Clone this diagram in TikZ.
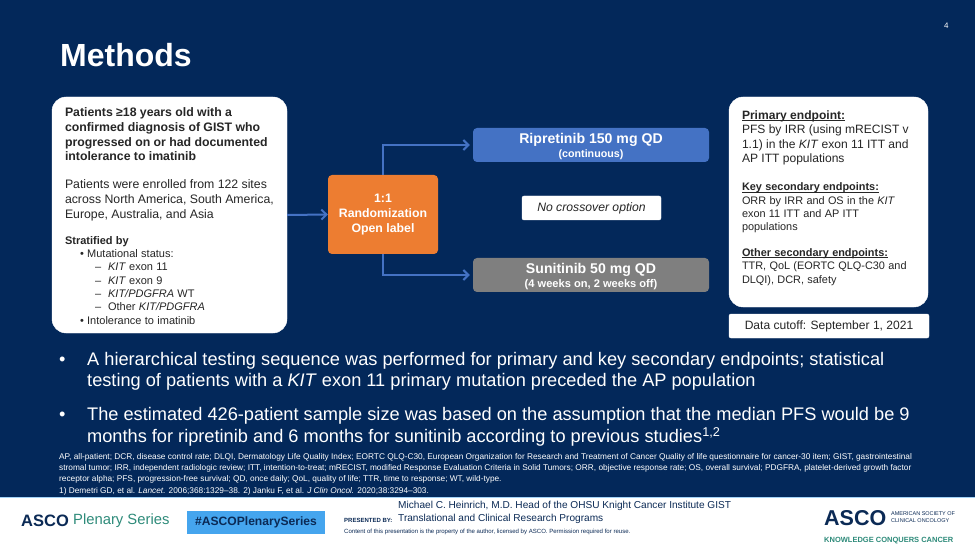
\documentclass[tikz,border=0pt]{standalone}
\usepackage{fontspec}
\setmainfont{Liberation Sans}
\usetikzlibrary{arrows.meta}
\definecolor{navy}{HTML}{03285A}
\definecolor{linkblue}{HTML}{4472C4}
\definecolor{orangebox}{HTML}{ED7D31}
\definecolor{greybox}{HTML}{7F7F7F}
\definecolor{inktext}{HTML}{262626}
\definecolor{hashblue}{HTML}{45A5EE}
\definecolor{ascogreen}{HTML}{2E8B7A}
\definecolor{asconavy}{HTML}{0B2A55}
\newcommand{\fs}[2]{\fontsize{#1}{#2}\selectfont}
\newcommand{\ulin}[1]{\setbox0\hbox{#1}\rlap{\rule[-1.6pt]{\wd0}{0.7pt}}\box0}
\tikzset{
  x=1pt,y=-1pt,
  whitebox/.style={draw=white,fill=white,rounded corners=14pt,inner sep=0pt,text=inktext,align=left},
  smallbox/.style={draw=white,fill=white,rounded corners=2pt,inner sep=0pt,text=inktext,align=center},
  armbox/.style={rounded corners=4pt,inner sep=0pt,text=white,align=center,minimum width=236pt,minimum height=34pt},
  link/.style={draw=linkblue,line width=2pt,-{Straight Barb[length=5pt,width=10pt,line width=2pt]}},
  txt/.style={inner sep=0pt,anchor=west,text=white,align=left},
  foot/.style={inner sep=0pt,anchor=west,text=#1,align=left},
}
\begin{document}
\begin{tikzpicture}
\useasboundingbox (0,0) rectangle (975,548);
\fill[navy] (0,0) rectangle (975,497);
\fill[white] (0,497) rectangle (975,548);
\draw[hashblue!50,line width=0.6pt] (0,497) -- (975,497);
\node[txt,font=\fs{32}{36}\bfseries] (title) at (60,55) {Methods};
\node[txt,font=\fs{8}{9}] (page) at (944,26) {4};
% eligibility
\node[whitebox,minimum width=235pt,minimum height=236pt,text width=209pt] (elig) at (169.5,215) {%
{\fs{12.3}{14.7}\bfseries Patients ≥18 years old with a\\confirmed diagnosis of GIST who\\progressed on or had documented\\intolerance to imatinib\par}
\vspace{13.4pt}
{\fs{12.3}{14.7}Patients were enrolled from 122 sites\\across North America, South America,\\Europe, Australia, and Asia\par}
\vspace{12.5pt}
{\fs{11}{13.35}\textbf{Stratified by}\\
\hspace*{15pt}• Mutational status:\\
\hspace*{30pt}–\hspace{7pt}\textit{KIT} exon 11\\
\hspace*{30pt}–\hspace{7pt}\textit{KIT} exon 9\\
\hspace*{30pt}–\hspace{7pt}\textit{KIT/PDGFRA} WT\\
\hspace*{30pt}–\hspace{7pt}Other \textit{KIT/PDGFRA}\\
\hspace*{15pt}• Intolerance to imatinib\par}
\vspace{-2pt}};
% randomization
\node[fill=orangebox,rounded corners=4pt,inner sep=0pt,text=white,align=center,minimum width=110pt,minimum height=79pt,font=\fs{12.3}{14.7}\bfseries] (rand) at (383,214.5) {1:1\\Randomization\\Open label};
% arms
\node[armbox,fill=linkblue] (rip) at (591,145) {{\fs{14.1}{15}\bfseries\rule{0pt}{13pt}Ripretinib 150 mg QD}\\[2pt]{\fs{10.7}{11}\bfseries (continuous)}};
\node[armbox,fill=greybox] (sun) at (591,275) {{\fs{14.1}{15}\bfseries\rule{0pt}{13pt}Sunitinib 50 mg QD}\\[2pt]{\fs{11.1}{11}\bfseries (4 weeks on, 2 weeks off)}};
\node[smallbox,minimum width=139pt,minimum height=24pt,font=\fs{12.2}{13}\itshape] (nox) at (591.5,208) {No crossover option};
% endpoints
\node[whitebox,minimum width=199pt,minimum height=210pt,text width=173pt] (ends) at (828.5,202) {%
{\fs{12.06}{14.6}\textbf{\ulin{Primary endpoint:}}\\PFS by IRR (using mRECIST v\\1.1) in the \textit{KIT} exon 11 ITT and\\AP ITT populations\par}
\vspace{14.5pt}
{\fs{10.9}{13.4}\textbf{\ulin{Key secondary endpoints:}}\\ORR by IRR and OS in the \textit{KIT}\\exon 11 ITT and AP ITT\\populations\par}
\vspace{12.2pt}
{\fs{10.9}{13.4}\textbf{\ulin{Other secondary endpoints:}}\\TTR, QoL (EORTC QLQ-C30 and\\DLQI), DCR, safety\par}
\vspace{8pt}};
\node[smallbox,minimum width=200pt,minimum height=24pt,font=\fs{12.06}{13}] (cut) at (829,326) {Data cutoff: September 1, 2021};
% connectors
\draw[link] (elig.east) -- (rand.west);
\draw[link,shorten >=3pt] (rand.north) |- (rip.west);
\draw[link,shorten >=3pt] (rand.south) |- (sun.west);
% bullets
\node[txt,font=\fs{18.2}{21.5}] (b1) at (59,361) {•};
\node[txt,font=\fs{18.2}{21.5}] (t1) at (87,371.5) {A hierarchical testing sequence was performed for primary and key secondary endpoints; statistical\\testing of patients with a \textit{KIT} exon 11 primary mutation preceded the AP population};
\node[txt,font=\fs{18.2}{21.5}] (b2) at (59,416) {•};
\node[txt,font=\fs{18.2}{21.5}] (t2) at (87,427) {The estimated 426-patient sample size was based on the assumption that the median PFS would be 9\\months for ripretinib and 6 months for sunitinib according to previous studies\textsuperscript{1,2}};
% footnotes
\node[txt,font=\fs{8.3}{11.3}] (notes) at (59,474) {AP, all-patient; DCR, disease control rate; DLQI, Dermatology Life Quality Index; EORTC QLQ-C30, European Organization for Research and Treatment of Cancer Quality of life questionnaire for cancer-30 item; GIST, gastrointestinal\\stromal tumor; IRR, independent radiologic review; ITT, intention-to-treat; mRECIST, modified Response Evaluation Criteria in Solid Tumors; ORR, objective response rate; OS, overall survival; PDGFRA, platelet-derived growth factor\\receptor alpha; PFS, progression-free survival; QD, once daily; QoL, quality of life; TTR, time to response; WT, wild-type.\\1) Demetri GD, et al. \textit{Lancet.} 2006;368:1329–38. 2) Janku F, et al. \textit{J Clin Oncol.} 2020;38:3294–303.};
% footer
\node[foot=asconavy,font=\fs{16.5}{18}\bfseries] (logoa) at (21,521) {ASCO};
\node[foot=ascogreen,font=\fs{14.8}{18}] (logob) at (73,521) {Plenary Series};
\node[fill=hashblue,inner sep=0pt,minimum width=138pt,minimum height=23pt,text=asconavy,font=\fs{12.1}{13}\bfseries] (hash) at (256,522) {\#ASCOPlenarySeries};
\node[foot=asconavy,font=\fs{6}{7}\bfseries] (pres) at (344,520) {PRESENTED BY:};
\node[foot=asconavy,font=\fs{10.1}{13}] (spk) at (398,512.5) {Michael C. Heinrich, M.D. Head of the OHSU Knight Cancer Institute GIST\\Translational and Clinical Research Programs};
\node[foot=asconavy,font=\fs{6.05}{7}] (copy) at (344,532) {Content of this presentation is the property of the author, licensed by ASCO. Permission required for reuse.};
\node[foot=asconavy,font=\fs{21.5}{24}\bfseries] (logoc) at (824,518) {ASCO};
\node[foot=asconavy,font=\fs{5.5}{7}] (soc) at (891,517) {AMERICAN SOCIETY OF\\CLINICAL ONCOLOGY};
\node[foot=ascogreen,font=\fs{7.5}{8}\bfseries] (kcc) at (824,541) {KNOWLEDGE CONQUERS CANCER};
\end{tikzpicture}
\end{document}
